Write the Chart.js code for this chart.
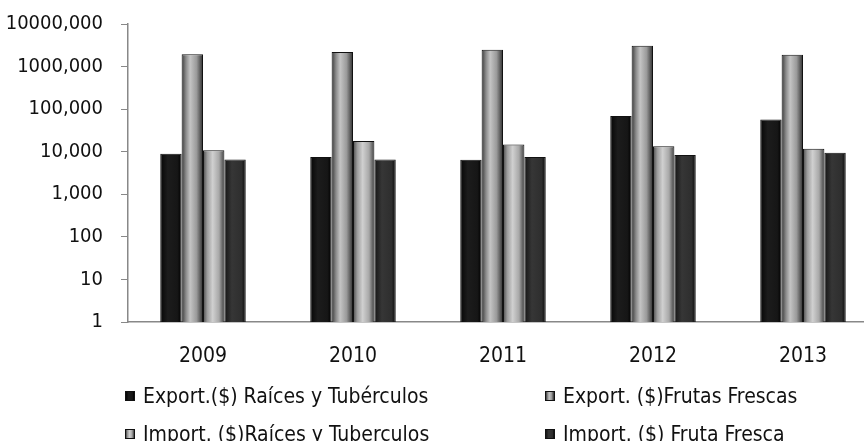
<!DOCTYPE html>
<html>
<head>
<meta charset="utf-8">
<script src="https://cdn.jsdelivr.net/npm/chart.js"></script>
<style>
  html, body { margin: 0; padding: 0; background: #fff; overflow: hidden; width: 864px; height: 441px; }
  #wrap { position: absolute; left: 0; top: 0; width: 880px; height: 441px; }
  .leg { position: absolute; font-family: "Liberation Sans Narrow", "DejaVu Sans Condensed", sans-serif; font-size: 21px; line-height: 21px; color: #111; white-space: nowrap; }
  .box { position: absolute; width: 10px; height: 10px; border: 1px solid #111; box-sizing: border-box; }
</style>
</head>
<body>
<div id="wrap"><canvas id="c"></canvas></div>
<div id="legend"></div>
<script>
// data
const years = ['2009', '2010', '2011', '2012', '2013'];
const seriesNames = [
  'Export.($) Raíces y Tubérculos',
  'Export. ($)Frutas Frescas',
  'Import. ($)Raíces y Tuberculos',
  'Import. ($) Fruta Fresca'
];
const exportRaices = [9000, 7500, 6500, 69000, 57000];
const exportFrutas = [1950000, 2200000, 2500000, 3100000, 1900000];
const importRaices = [10800, 17800, 14700, 13400, 11800];
const importFruta = [6600, 6600, 7500, 8400, 9500];
const yTickValues = [1, 10, 100, 1000, 10000, 100000, 1000000, 10000000];
const yTickLabels = ['1', '10', '100', '1,000', '10,000', '100,000', '1000,000', '10000,000'];

// cylinder-like shading per series (left edge -> right edge)
const shades = [
  [[0, '#050505'], [0.35, '#1c1c1c'], [0.8, '#161616'], [1, '#000']],
  [[0, '#3a3a3a'], [0.2, '#8a8a8a'], [0.4, '#c4c4c4'], [0.7, '#9a9a9a'], [1, '#2e2e2e']],
  [[0, '#4a4a4a'], [0.2, '#9c9c9c'], [0.45, '#d0d0d0'], [0.75, '#a8a8a8'], [1, '#404040']],
  [[0, '#141414'], [0.35, '#363636'], [0.8, '#2e2e2e'], [1, '#0a0a0a']]
];
const flat = ['#151515', '#a0a0a0', '#b0b0b0', '#2e2e2e'];

const gradientBars = {
  id: 'gradientBars',
  beforeDatasetsDraw(chart) {
    const ctx = chart.ctx;
    chart.data.datasets.forEach((ds, i) => {
      chart.getDatasetMeta(i).data.forEach(bar => {
        const x0 = bar.x - bar.width / 2;
        const g = ctx.createLinearGradient(x0, 0, x0 + bar.width, 0);
        shades[i].forEach(s => g.addColorStop(s[0], s[1]));
        bar.options.backgroundColor = g;
      });
    });
  }
};

const font = { family: '"Liberation Sans Narrow", "DejaVu Sans Condensed", sans-serif', size: 20 };

new Chart(document.getElementById('c'), {
  type: 'bar',
  data: {
    labels: years,
    datasets: [exportRaices, exportFrutas, importRaices, importFruta].map((d, i) => ({
      label: seriesNames[i],
      data: d,
      backgroundColor: () => flat[i],
      borderColor: '#111',
      borderWidth: 1,
      categoryPercentage: 0.57,
      barPercentage: 1.0
    }))
  },
  options: {
    responsive: true,
    maintainAspectRatio: false,
    animation: false,
    layout: { padding: { top: 24, right: 2, left: 0, bottom: 0 } },
    plugins: { legend: { display: false }, tooltip: { enabled: false } },
    scales: {
      x: {
        grid: { display: false },
        border: { display: true, color: '#888', width: 1.5 },
        ticks: { color: '#111', font: { family: font.family, size: 21 }, padding: 14 },
        afterFit: s => { s.height = 119; }
      },
      y: {
        type: 'logarithmic',
        min: 1,
        max: 10000000,
        afterBuildTicks: axis => { axis.ticks = yTickValues.map(v => ({ value: v })); },
        afterFit: s => { s.width = 128; s.paddingTop = 0; s.paddingBottom = 0; },
        grid: { display: true, drawOnChartArea: false, drawTicks: true, tickLength: 7, color: '#888' },
        border: { display: true, color: '#888', width: 1.5 },
        ticks: {
          color: '#111',
          font: font,
          padding: 18,
          callback: v => yTickLabels[Math.round(Math.log10(v))]
        }
      }
    }
  },
  plugins: [gradientBars]
});

// legend in two columns below the axis
const legendPos = [[125, 386], [545, 386], [125, 424], [545, 424]];
const legend = document.getElementById('legend');
seriesNames.forEach((name, i) => {
  const stops = shades[i].map(s => s[1] + ' ' + Math.round(s[0] * 100) + '%').join(', ');
  const box = document.createElement('div');
  box.className = 'box';
  box.style.left = legendPos[i][0] + 'px';
  box.style.top = (legendPos[i][1] + 5) + 'px';
  box.style.background = 'linear-gradient(to right, ' + stops + ')';
  legend.appendChild(box);
  const txt = document.createElement('div');
  txt.className = 'leg';
  txt.style.left = (legendPos[i][0] + 18) + 'px';
  txt.style.top = legendPos[i][1] + 'px';
  txt.textContent = name;
  legend.appendChild(txt);
});
</script>
</body>
</html>
